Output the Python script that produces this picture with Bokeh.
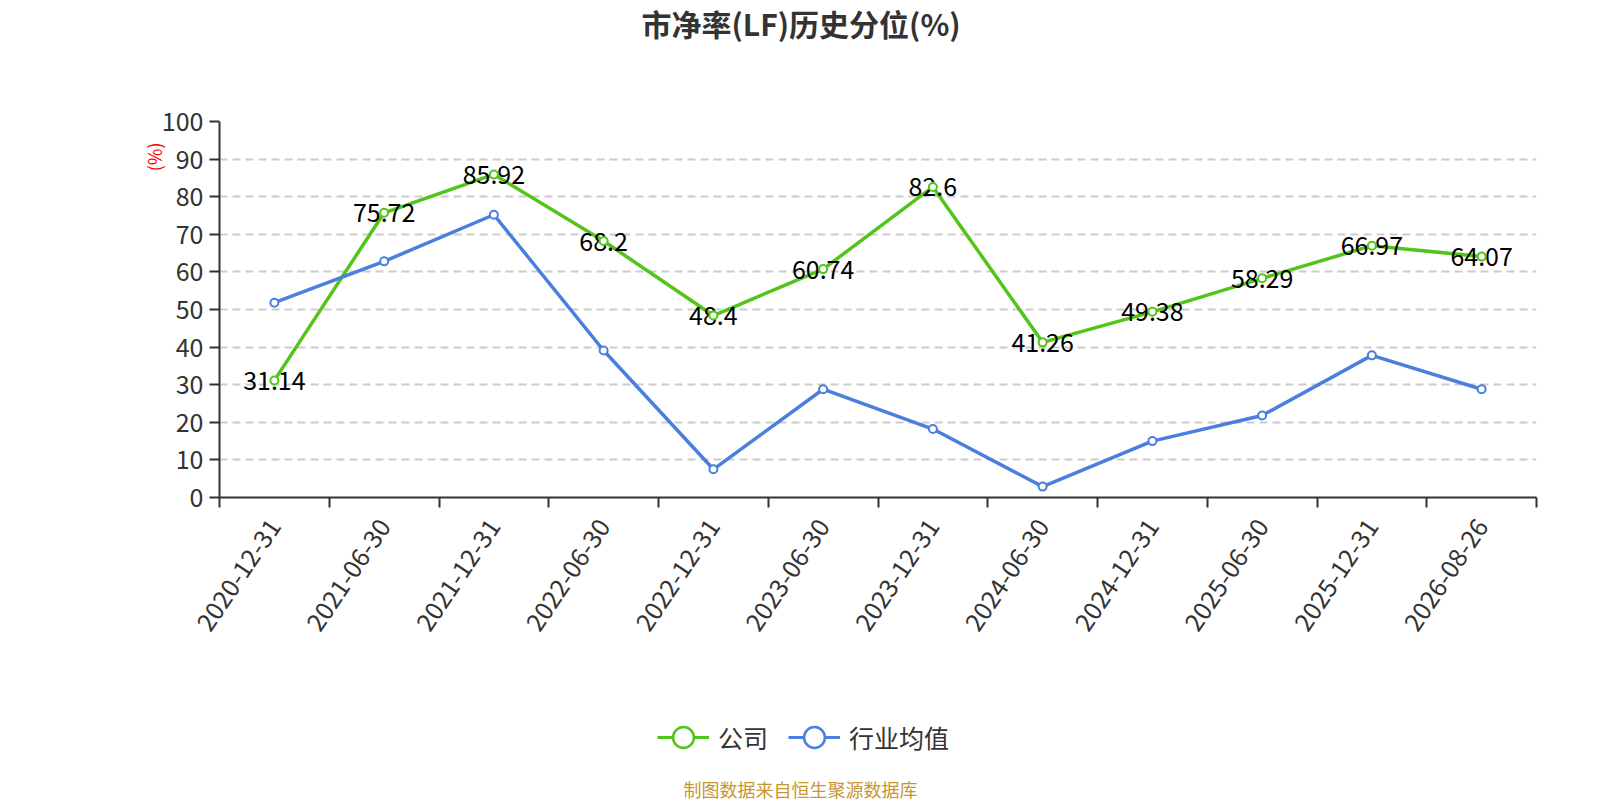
import math
from bokeh.plotting import figure
from bokeh.layouts import column
from bokeh.models import Range1d, FixedTicker, Legend, LegendItem, ColumnDataSource, Title, Label
from bokeh.core.properties import value
from bokeh.embed import file_html
from bokeh.resources import INLINE

# ---- data ----
dates = ["2020-12-31", "2021-06-30", "2021-12-31", "2022-06-30", "2022-12-31", "2023-06-30",
         "2023-12-31", "2024-06-30", "2024-12-31", "2025-06-30", "2025-12-31", "2026-08-26"]
company = [31.14, 75.72, 85.92, 68.2, 48.4, 60.74, 82.6, 41.26, 49.38, 58.29, 66.97, 64.07]
industry = [51.8, 62.8, 75.2, 39.1, 7.5, 28.8, 18.2, 2.9, 15.0, 21.8, 37.8, 28.8]
y_ticks = list(range(0, 101, 10))
series_names = ["公司", "行业均值"]
title_text = "市净率(LF)历史分位(%)"
unit_text = "(%)"
source_text = "制图数据来自恒生聚源数据库"

FONT = "Noto Sans CJK SC"
GREEN = "#52c41a"
BLUE = "#4a7fe0"
TXT = "#333333"
FS = "25px"

n = len(dates)
xs = [i + 0.5 for i in range(n)]
src = ColumnDataSource(dict(x=xs, company=company, industry=industry,
                            lbl=[f"{v:g}" for v in company]))

# ================= main chart =================
p = figure(width=1600, height=690, x_range=Range1d(0, n), y_range=Range1d(0, 100),
           output_backend="svg", toolbar_location=None, title=None,
           min_border_left=219, min_border_right=64, min_border_top=120, min_border_bottom=193)
p.outline_line_color = None
p.background_fill_color = "white"
p.border_fill_color = "white"

xa = p.xaxis[0]
xa.ticker = FixedTicker(ticks=xs, minor_ticks=list(range(n + 1)))
xa.major_label_overrides = {x: d for x, d in zip(xs, dates)}
xa.major_tick_out = 0
xa.major_tick_in = 0
xa.major_tick_line_color = None
xa.minor_tick_out = 10
xa.minor_tick_in = 0
xa.minor_tick_line_color = TXT
xa.minor_tick_line_width = 2
xa.axis_line_color = TXT
xa.axis_line_width = 2
xa.major_label_text_font = FONT
xa.major_label_text_font_size = FS
xa.major_label_text_color = TXT
xa.major_label_orientation = math.radians(56)
xa.major_label_standoff = 14

ya = p.yaxis[0]
ya.ticker = FixedTicker(ticks=y_ticks, minor_ticks=[])
ya.major_tick_out = 10
ya.major_tick_in = 0
ya.major_tick_line_color = TXT
ya.major_tick_line_width = 2
ya.minor_tick_line_color = None
ya.axis_line_color = TXT
ya.axis_line_width = 2
ya.major_label_text_font = FONT
ya.major_label_text_font_size = FS
ya.major_label_text_color = TXT
ya.major_label_standoff = 6

p.xgrid.visible = False
p.ygrid.grid_line_color = "#cccccc"
p.ygrid.grid_line_width = 2
p.ygrid.grid_line_dash = "8 5"

gl = p.line("x", "company", source=src, line_color=GREEN, line_width=3.5)
bl = p.line("x", "industry", source=src, line_color=BLUE, line_width=3.5)
p.text("x", "company", text="lbl", source=src, text_align="center", text_baseline="middle",
       text_font=value(FONT), text_font_size=FS, text_color="black")
gs = p.scatter("x", "company", source=src, size=8, fill_color="white", line_color=GREEN, line_width=2)
bs = p.scatter("x", "industry", source=src, size=8, fill_color="white", line_color=BLUE, line_width=2)

# title (above): spacer first so that the title sits at the top edge
p.add_layout(Title(text=" ", text_font_size="10px", standoff=62), "above")
p.add_layout(Title(text=title_text, text_font=FONT, text_font_size="30px", text_font_style="bold",
                   text_color=TXT, align="left", offset=422, vertical_align="top", standoff=0),
             "above")

# unit label on the left
p.add_layout(Title(text=unit_text, text_font=FONT, text_font_size="18px", text_color="red",
                   text_font_style="normal", align="right", offset=21,
                   vertical_align="bottom", standoff=-16), "left")

# ================= legend + source strip =================
q = figure(width=1600, height=110, x_range=Range1d(0, 1), y_range=Range1d(0, 1),
           output_backend="svg", toolbar_location=None, title=None,
           x_axis_location=None, y_axis_location=None, min_border=0)
q.outline_line_color = None
q.grid.visible = False
q.background_fill_color = "white"
q.border_fill_color = "white"

nan = float("nan")
lg_g = q.line(x=[nan, nan], y=[nan, nan], line_color=GREEN, line_width=3)
lg_gs = q.scatter(x=[nan], y=[nan], fill_color="white", line_color=GREEN, line_width=2.5)
lg_b = q.line(x=[nan, nan], y=[nan, nan], line_color=BLUE, line_width=3)
lg_bs = q.scatter(x=[nan], y=[nan], fill_color="white", line_color=BLUE, line_width=2.5)

# this strip's frame is aligned with the main chart's frame (left edge at x=219)
legend = Legend(items=[LegendItem(label=series_names[0], renderers=[lg_g, lg_gs]),
                       LegendItem(label=series_names[1], renderers=[lg_b, lg_bs])],
                orientation="horizontal", location=(438, 37),
                glyph_width=52, glyph_height=52, label_standoff=9, spacing=20,
                padding=0, margin=0, border_line_color=None, background_fill_alpha=0,
                label_text_font=FONT, label_text_font_size=FS, label_text_color=TXT)
q.add_layout(legend, "center")

q.add_layout(Label(x=581, y=12, x_units="screen", y_units="screen", text=source_text,
                   text_font=FONT, text_font_size="18px", text_color="#c89632",
                   text_align="center", text_baseline="middle"))

open("out.html", "w").write(file_html(column(p, q, spacing=0), INLINE))
